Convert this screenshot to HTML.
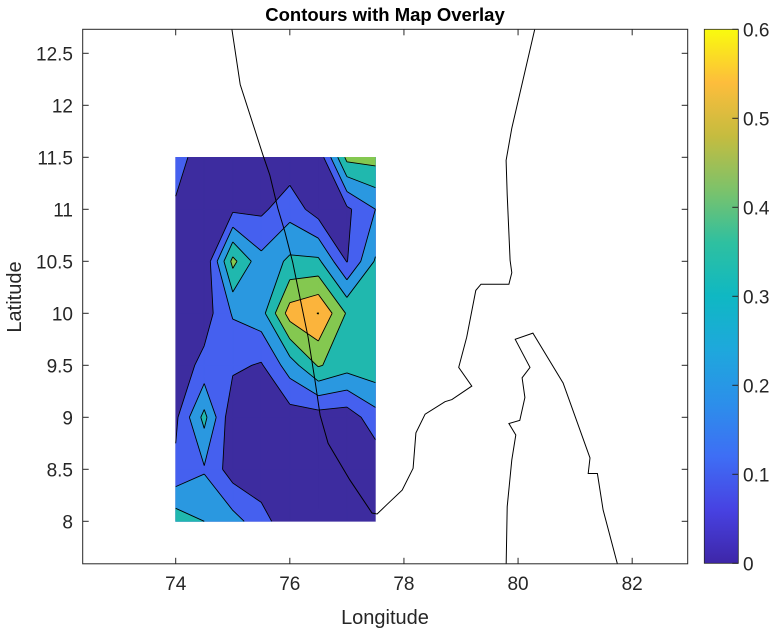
<!DOCTYPE html>
<html><head><meta charset="utf-8"><style>
html,body{margin:0;padding:0;background:#fff;}
svg{display:block;font-family:"Liberation Sans",Arial,sans-serif;}
</style></head><body>
<svg id="chart" width="776" height="632" viewBox="0 0 776 632" xmlns="http://www.w3.org/2000/svg">
<defs>
<clipPath id="plotclip"><rect x="82.7" y="29.3" width="605" height="534.5"/></clipPath>
<linearGradient id="parula" x1="0" y1="1" x2="0" y2="0">
<stop offset="0" stop-color="#3e26a8"/><stop offset="0.1" stop-color="#4742e2"/>
<stop offset="0.2" stop-color="#3e6ef5"/><stop offset="0.3" stop-color="#2c8fea"/>
<stop offset="0.4" stop-color="#1ea8dc"/><stop offset="0.5" stop-color="#0fb8c3"/>
<stop offset="0.6" stop-color="#2ec0a0"/><stop offset="0.7" stop-color="#7dc26a"/>
<stop offset="0.8" stop-color="#c5bc3f"/><stop offset="0.9" stop-color="#fdbd3c"/>
<stop offset="1" stop-color="#f9fb0e"/>
</linearGradient>
</defs>
<text x="385" y="21" text-anchor="middle" font-size="18.5" font-weight="bold">Contours with Map Overlay</text>
<g id="fills" clip-path="url(#plotclip)"></g>
<g id="lines" clip-path="url(#plotclip)"></g>
<g id="coast" clip-path="url(#plotclip)"></g>
<g id="axes"></g>
<rect x="704.3" y="29.3" width="34" height="534" fill="url(#parula)" stroke="#262626" stroke-width="0.8"/>
<g id="cbticks"></g>
<text x="385" y="624" text-anchor="middle" font-size="20" fill="#262626">Longitude</text>
<text transform="translate(21,297) rotate(-90)" text-anchor="middle" font-size="20" fill="#262626">Latitude</text>
</svg>
<script>
const lons = [74, 74.5, 75, 75.5, 76, 76.5, 77, 77.5];
const lats = [8, 8.5, 9, 9.5, 10, 10.5, 11, 11.5];
const zRow8   = [0.36, 0.30, 0.24, 0.14, 0.03, 0.03, 0.03, 0.03];
const zRow8_5 = [0.12, 0.19, 0.05, 0.03, 0.03, 0.03, 0.02, 0.02];
const zRow9   = [0.08, 0.33, 0.02, 0.04, 0.05, 0.05, 0.04, 0.16];
const zRow9_5 = [0.04, 0.13, 0.12, 0.09, 0.25, 0.41, 0.345, 0.37];
const zRow10  = [0.03, 0.05, 0.21, 0.26, 0.546, 0.603, 0.39, 0.32];
const zRow10_5= [0.04, 0.01, 0.43, 0.23, 0.32, 0.32, 0.095, 0.31];
const zRow11  = [0.09, 0.03, 0.08, 0.08, 0.16, 0.05, 0.08, 0.20];
const zRow11_5= [0.13, 0.06, 0.03, 0.03, 0.03, 0.024, 0.43, 0.44];
const levels = [0, 0.1, 0.2, 0.3, 0.4, 0.5, 0.6];
const bandColors = ["#3d2c9f", "#4560ef", "#2a98e0", "#20b8ae", "#84c850", "#fbb43c", "#f9fb0e"];
const xTicks = [74, 76, 78, 80, 82];
const yTicks = [8, 8.5, 9, 9.5, 10, 10.5, 11, 11.5, 12, 12.5];
const yTickLabels = ["8", "8.5", "9", "9.5", "10", "10.5", "11", "11.5", "12", "12.5"];
const cbTicks = [0, 0.1, 0.2, 0.3, 0.4, 0.5, 0.6];
const coastLon = [74.98,75.13,75.53,75.65,75.79,75.91,76.05,76.32,76.44,76.53,76.67,77.05,77.44,77.53,77.70,77.97,78.16,78.21,78.37,78.72,78.84,79.19,78.96,79.10,79.26,79.35,79.84,79.89,79.86,79.81,79.79,79.89,80.30];
const coastLat = [12.75,12.20,11.52,11.33,11.01,10.79,10.49,9.77,9.36,9.02,8.75,8.40,8.08,8.07,8.16,8.30,8.51,8.85,9.03,9.15,9.17,9.30,9.48,9.77,10.22,10.28,10.28,10.39,10.51,11.14,11.47,11.78,12.75];
const islandLon = [79.79,79.81,79.89,79.96,79.84,80.03,80.12,80.07,80.21,79.95,80.26,80.79,81.26,81.23,81.39,81.49,81.76];
const islandLat = [7.55,8.14,8.59,8.83,8.94,8.97,9.19,9.38,9.48,9.75,9.81,9.33,8.61,8.46,8.46,8.11,7.55];

const zGrid = [zRow8, zRow8_5, zRow9, zRow9_5, zRow10, zRow10_5, zRow11, zRow11_5];
const NS = "http://www.w3.org/2000/svg";
function X(lon){ return 175.7 + (lon - 74) * 57.06; }
function Y(lat){ return 521.3 - (lat - 8) * 104; }
function C(v){ return 563.3 - v / 0.6 * 534; }
function mk(tag, attrs, parent){ const e = document.createElementNS(NS, tag); for (const k in attrs) e.setAttribute(k, attrs[k]); parent.appendChild(e); return e; }

function clip(poly, L){
  const out = [];
  for (let i = 0; i < poly.length; i++){
    const a = poly[i], b = poly[(i + 1) % poly.length];
    const ain = a.z >= L, bin = b.z >= L;
    if (ain !== bin){
      const t = (L - a.z) / (b.z - a.z);
      out.push({x: a.x + t * (b.x - a.x), y: a.y + t * (b.y - a.y), z: L, cut: true});
    }
    if (bin) out.push(b);
  }
  return out;
}
const fillG = document.getElementById('fills');
const lineG = document.getElementById('lines');
levels.forEach((L, li) => {
  let d = "", ld = "";
  for (let j = 0; j < lats.length - 1; j++){
    for (let i = 0; i < lons.length - 1; i++){
      const cell = [
        {x: X(lons[i]), y: Y(lats[j]), z: zGrid[j][i]},
        {x: X(lons[i+1]), y: Y(lats[j]), z: zGrid[j][i+1]},
        {x: X(lons[i+1]), y: Y(lats[j+1]), z: zGrid[j+1][i+1]},
        {x: X(lons[i]), y: Y(lats[j+1]), z: zGrid[j+1][i]}
      ];
      const p = clip(cell, L);
      if (p.length < 3) continue;
      d += "M" + p.map(q => q.x.toFixed(2) + "," + q.y.toFixed(2)).join("L") + "Z";
      if (li > 0){
        for (let k = 0; k < p.length; k++){
          const a = p[k], b = p[(k + 1) % p.length];
          if (a.cut && b.cut) ld += "M" + a.x.toFixed(2) + "," + a.y.toFixed(2) + "L" + b.x.toFixed(2) + "," + b.y.toFixed(2);
        }
      }
    }
  }
  if (d){
    const f = mk('path', {d: d, fill: bandColors[li], stroke: bandColors[li], 'stroke-width': 0.6}, fillG);
    
    
  }
  if (ld){
    const l = mk('path', {d: ld, fill: 'none', stroke: '#000', 'stroke-width': 0.9}, lineG);
    
    
  }
});

const coastG = document.getElementById('coast');
const c1 = mk('polyline', {points: coastLon.map((v, k) => X(v).toFixed(1) + "," + Y(coastLat[k]).toFixed(1)).join(" "), fill: 'none', stroke: '#000', 'stroke-width': 1}, coastG);


const c2 = mk('polyline', {points: islandLon.map((v, k) => X(v).toFixed(1) + "," + Y(islandLat[k]).toFixed(1)).join(" "), fill: 'none', stroke: '#000', 'stroke-width': 1}, coastG);



const ax = document.getElementById('axes');
const box = mk('rect', {x: 82.7, y: 29.3, width: 605, height: 534.5, fill: 'none', stroke: '#262626', 'stroke-width': 1}, ax);


xTicks.forEach(v => {
  const x = X(v);
  mk('line', {x1: x, x2: x, y1: 563.8, y2: 557.8, stroke: '#262626'}, ax);
  mk('line', {x1: x, x2: x, y1: 29.3, y2: 35.3, stroke: '#262626'}, ax);
  const t = mk('text', {x: x, y: 590, 'text-anchor': 'middle', 'font-size': 19, fill: '#262626'}, ax);
  t.textContent = String(v);
  
  
});
yTicks.forEach((v, k) => {
  const y = Y(v);
  mk('line', {x1: 82.7, x2: 88.7, y1: y, y2: y, stroke: '#262626'}, ax);
  mk('line', {x1: 687.7, x2: 681.7, y1: y, y2: y, stroke: '#262626'}, ax);
  const t = mk('text', {x: 73, y: y + 7, 'text-anchor': 'end', 'font-size': 19, fill: '#262626'}, ax);
  t.textContent = yTickLabels[k];
  
  
});
const cb = document.getElementById('cbticks');
cbTicks.forEach(v => {
  const y = C(v);
  mk('line', {x1: 732.3, x2: 738.3, y1: y, y2: y, stroke: '#262626'}, cb);
  const t = mk('text', {x: 743, y: y + 7, 'font-size': 19, fill: '#262626'}, cb);
  t.textContent = String(v);
  
  
});
</script>
</body></html>
